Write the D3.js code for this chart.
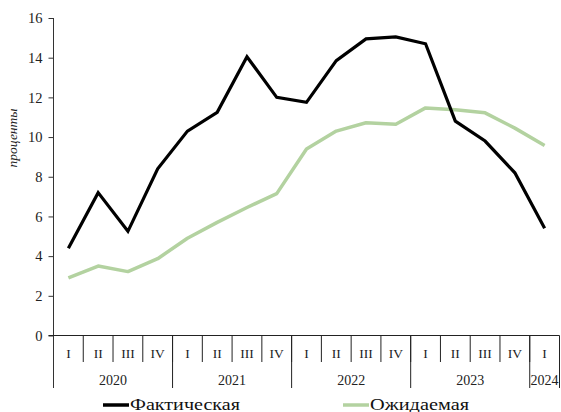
<!DOCTYPE html>
<html>
<head>
<meta charset="utf-8">
<script src="https://cdn.jsdelivr.net/npm/d3@7"></script>
<style>
  html, body { margin: 0; padding: 0; background: #fff; }
  svg { display: block; }
  svg text { font-family: "Liberation Serif", "Times New Roman", serif !important; }
</style>
</head>
<body>
<svg id="chart" width="561" height="412"></svg>
<script>
// Quarterly inflation: actual vs expected, percent
const quarters = ["I","II","III","IV","I","II","III","IV","I","II","III","IV","I","II","III","IV","I"];
const years = [
  { label: "2020", count: 4 },
  { label: "2021", count: 4 },
  { label: "2022", count: 4 },
  { label: "2023", count: 4 },
  { label: "2024", count: 1 }
];
const actual   = [4.4, 7.2, 5.25, 8.4, 10.3, 11.25, 14.05, 12.0, 11.75, 13.85, 14.95, 15.05, 14.7, 10.8, 9.8, 8.2, 5.4];
const expected = [2.9, 3.5, 3.22, 3.87, 4.9, 5.7, 6.45, 7.15, 9.4, 10.3, 10.72, 10.65, 11.47, 11.38, 11.22, 10.45, 9.58];
const yTicks = [0, 2, 4, 6, 8, 10, 12, 14, 16];
const seriesNames = ["Фактическая", "Ожидаемая"];

const svg = d3.select("#chart");
const plotLeft = 53.5, plotRight = 559.5, plotTop = 18, plotBottom = 335.5;

const x = d3.scaleBand().domain(d3.range(quarters.length)).range([plotLeft, plotRight]).padding(0);
const y = d3.scaleLinear().domain([0, 16]).range([plotBottom, plotTop]);

// Y axis
const yAxis = d3.axisLeft(y).tickValues(yTicks).tickSize(5).tickSizeOuter(0).tickPadding(6);
const gy = svg.append("g").attr("transform", `translate(${plotLeft},0)`).call(yAxis)
  .attr("font-family", null).attr("font-size", null);
gy.select(".domain").remove();
gy.selectAll(".tick line").attr("stroke", "#333");
gy.selectAll(".tick text").style("font-size", "14.5px").attr("fill", "#222");

// Y axis line extends through the category area
svg.append("line").attr("x1", plotLeft).attr("x2", plotLeft).attr("y1", plotTop).attr("y2", 388)
  .attr("stroke", "#333").attr("stroke-width", 1);

// X axis baseline
svg.append("line").attr("x1", plotLeft - 5).attr("x2", plotRight).attr("y1", plotBottom).attr("y2", plotBottom)
  .attr("stroke", "#222").attr("stroke-width", 1.2);

// Quarter separators and labels
quarters.forEach((q, i) => {
  const x0 = x(i);
  if (i > 0) {
    svg.append("line").attr("x1", x0).attr("x2", x0).attr("y1", plotBottom).attr("y2", 362)
      .attr("stroke", "#222").attr("stroke-width", 1);
  }
  svg.append("text").attr("x", x0 + x.bandwidth() / 2).attr("y", 358)
    .attr("text-anchor", "middle").style("font-size", "13.5px").attr("fill", "#222").text(q);
});
svg.append("line").attr("x1", plotRight).attr("x2", plotRight).attr("y1", plotBottom).attr("y2", 388)
  .attr("stroke", "#222").attr("stroke-width", 1);

// Year groups
let idx = 0;
years.forEach((yr, k) => {
  const x0 = x(idx);
  const x1 = x(idx + yr.count - 1) + x.bandwidth();
  if (k > 0) {
    svg.append("line").attr("x1", x0).attr("x2", x0).attr("y1", plotBottom).attr("y2", 388)
      .attr("stroke", "#222").attr("stroke-width", 1);
  }
  svg.append("text").attr("x", (x0 + x1) / 2).attr("y", 385)
    .attr("text-anchor", "middle").style("font-size", "14px").attr("fill", "#222").text(yr.label);
  idx += yr.count;
});

// Y label
svg.append("text")
  .attr("transform", `translate(17,138) rotate(-90)`)
  .attr("text-anchor", "middle").style("font-size", "13.5px").style("font-style", "italic")
  .attr("fill", "#222").text("проценты");

// Lines
const line = d3.line().x((d, i) => x(i) + x.bandwidth() / 2).y(d => y(d));
svg.append("path").datum(expected).attr("d", line)
  .attr("fill", "none").attr("stroke", "#b3d2a0").attr("stroke-width", 3.5)
  .attr("stroke-linejoin", "round");
svg.append("path").datum(actual).attr("d", line)
  .attr("fill", "none").attr("stroke", "#000").attr("stroke-width", 3.2)
  .attr("stroke-linejoin", "miter");

// Legend
const legend = [
  { name: seriesNames[0], color: "#000", x: 103, w: 110 },
  { name: seriesNames[1], color: "#b3d2a0", x: 343, w: 99 }
];
legend.forEach(l => {
  svg.append("line").attr("x1", l.x).attr("x2", l.x + 26).attr("y1", 405).attr("y2", 405)
    .attr("stroke", l.color).attr("stroke-width", 3.5);
  svg.append("text").attr("x", l.x + 27).attr("y", 409.5).style("font-size", "16px")
    .attr("textLength", l.w).attr("lengthAdjust", "spacingAndGlyphs")
    .attr("fill", "#111").text(l.name);
});
</script>
</body>
</html>
